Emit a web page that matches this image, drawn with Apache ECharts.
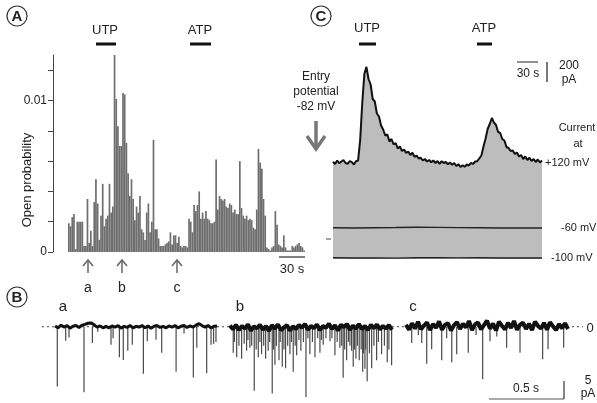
<!DOCTYPE html>
<html>
<head>
<meta charset="utf-8">
<script src="https://cdn.jsdelivr.net/npm/echarts@6/dist/echarts.min.js"></script>
<style>
  html, body { margin: 0; padding: 0; background: #fff; }
  #chart { width: 597px; height: 403px; }
</style>
</head>
<body>
<div id="chart"></div>
<script>
// ---- Panel A: single-channel open probability, one bin per bar ----
const openProbability = [
  0.0019, 0.0017, 0.0023, 0.0025, 0.0002, 0.0020, 0.0020, 0.0020, 0.0020, 0.0004,
  0.0004, 0.0035, 0.0006, 0.0014, 0.0004, 0.0033, 0.0048, 0.0032, 0.0008, 0.0024,
  0.0045, 0.0017, 0.0022, 0.0024, 0.0045, 0.0026, 0.0030, 0.0130, 0.0101, 0.0083,
  0.0070, 0.0070, 0.0105, 0.0104, 0.0072, 0.0052, 0.0037, 0.0048, 0.0035, 0.0021,
  0.0030, 0.0026, 0.0037, 0.0015, 0.0013, 0.0008, 0.0026, 0.0032, 0.0013, 0.0020,
  0.0074, 0.0015, 0.0015, 0.0009, 0.0004, 0.0004, 0.0004, 0.0005, 0.0006, 0.0007,
  0.0013, 0.0005, 0.0011, 0.0011, 0.0006, 0.0010, 0.0004, 0.0003, 0.0004, 0.0004,
  0.0003, 0.0022, 0.0020, 0.0013, 0.0031, 0.0027, 0.0031, 0.0040, 0.0022, 0.0026,
  0.0022, 0.0027, 0.0022, 0.0021, 0.0019, 0.0019, 0.0020, 0.0061, 0.0028, 0.0037,
  0.0035, 0.0034, 0.0035, 0.0030, 0.0029, 0.0032, 0.0031, 0.0026, 0.0028, 0.0025,
  0.0025, 0.0060, 0.0029, 0.0024, 0.0022, 0.0024, 0.0021, 0.0022, 0.0021, 0.0016,
  0.0015, 0.0028, 0.0068, 0.0059, 0.0055, 0.0035, 0.0024, 0.0003, 0.0002, 0.0001,
  0.0003, 0.0004, 0.0027, 0.0018, 0.0005, 0.0004, 0.0003, 0.0011, 0.0003, 0.0001,
  0.0001, 0.0001, 0.0004, 0.0003, 0.0004, 0.0005, 0.0006, 0.0004, 0.0003, 0.0001
];
const openProbTicks = { '0': '0', '0.01': '0.01' };

// ---- Panel C: whole-cell current (pA) ----
const currentStepS = 3;          // sampling of the +120 mV trace
const current120 = [
  772, 750, 785, 758, 775, 790, 760, 752, 780, 768, 745, 778, 785, 990, 1360,
  1650, 1722, 1600, 1545, 1400, 1375, 1255, 1225, 1135, 1095, 1035, 1045, 975, 1000, 945,
  960, 905, 925, 880, 895, 860, 875, 840, 862, 822, 835, 805, 812, 785, 800,
  775, 790, 768, 785, 760, 780, 752, 778, 760, 770, 748, 765, 742, 760, 730,
  748, 720, 738, 722, 745, 735, 762, 750, 775, 778, 805, 835, 925, 1005, 1100,
  1150, 1210, 1165, 1140, 1070, 1060, 1000, 985, 920, 910, 880, 885, 850, 865, 825,
  840, 800, 825, 790, 812, 780, 800, 770, 795, 765, 785
];
const holdStepS = 30;            // sampling of the negative-potential traces
const currentMinus60 = [112, 110, 113, 115, 118, 116, 114, 112, 110, 111, 110];
const currentMinus100 = [-188, -190, -189, -191, -188, -186, -189, -187, -190, -189, -190];

// ---- Panel B: single-channel records (pA), closed-state noise every 20 ms ----
const noiseStepS = 0.02;
const baselineA = [
  0.2, -0.3, 0.4, -0.1, 0.3, -0.4, 0.1, 0.3, -0.2, 0.4,
  0.6, 0.9, 1.0, 0.5, -0.1, 0.2, -0.3, 0.1, -0.3, 0.2,
  -0.1, 0.3, -0.4, 0.1, -0.2, 0.3, -0.3, 0.1, -0.1, 0.3,
  -0.3, 0.2, -0.4, 0.1, 0.3, -0.2, 0.1, -0.3, 0.2, -0.1,
  0.3, -0.3, 0.1, 0.3, -0.2, 0.2, -0.1, 0.4, 0.8, 0.3,
  -0.1, 0.3, -0.3, 0.1, 0.2
];
const baselineB = [
  0.3, -0.7, 0.5, -0.9, 0.2, -0.5, 0.6, -1.0, 0.1, -0.4,
  0.5, -0.8, 0.2, -1.1, 0.4, -0.5, 0.6, -0.9, -0.2, 0.4,
  -1.0, 0.1, -0.6, 0.5, -0.3, 0.7, -0.8, 0.2, -0.4, 0.6,
  -0.9, 0.2, -0.3, 0.8, -0.6, 0.4, -1.0, 0.5, -0.1, 0.7,
  -0.8, 0.3, -0.5, 0.7, -0.6, 0.2, -0.9, 0.5, -0.4, 0.6,
  -0.7, 0.2, -0.5, 0.4, -0.8
];
const baselineC = [
  0.5, -0.8, 0.9, -0.5, 1.3, -0.7, 0.3, 1.1, -0.9, 0.7,
  -0.3, 1.4, -0.8, 0.5, 0.9, -1.0, 0.4, 1.2, -0.6, 0.8,
  -0.2, 1.5, -0.9, 0.6, 1.1, -0.7, 0.4, 1.6, -0.5, 0.8,
  -1.0, 1.3, 0.2, -0.7, 1.0, -0.3, 1.5, -0.8, 0.5, 1.1,
  -0.6, 0.8, -0.9, 1.3, 0.2, -0.5, 1.0, -0.8, 1.2, 0.1,
  -0.9, 0.7, -0.4, 0.9, -0.6
];
// channel openings: [time within record (s), amplitude (pA, inward)]
const openingsA = [
  [0.015, 15.7], [0.071, 3.7], [0.093, 2.8], [0.193, 17.2], [0.249, 4.3], [0.285, 1.3],
  [0.373, 4.7], [0.387, 3.0], [0.429, 8.0], [0.455, 8.7], [0.485, 6.3], [0.515, 4.7],
  [0.589, 12.3], [0.615, 3.8], [0.673, 3.4], [0.711, 6.8], [0.807, 11.8], [0.860, 1.8],
  [0.922, 13.3], [0.945, 5.5], [1.011, 12.2], [1.040, 4.7], [1.057, 4.5], [1.073, 4.0]
];
const openingsB = [
  [0.022, 6.8], [0.030, 4.0], [0.045, 8.0], [0.060, 5.0], [0.078, 8.4], [0.095, 4.5],
  [0.111, 6.3], [0.120, 3.5], [0.133, 5.5], [0.145, 5.0], [0.162, 16.8], [0.175, 6.0],
  [0.189, 8.0], [0.200, 4.0], [0.211, 7.2], [0.225, 5.0], [0.238, 8.4], [0.255, 6.3],
  [0.265, 4.0], [0.282, 17.5], [0.290, 6.0], [0.300, 10.0], [0.310, 5.0], [0.327, 8.8],
  [0.335, 4.0], [0.349, 10.5], [0.360, 6.0], [0.371, 10.9], [0.385, 5.0], [0.400, 7.2],
  [0.410, 4.0], [0.422, 11.8], [0.435, 5.0], [0.445, 7.5], [0.460, 3.5], [0.473, 6.3],
  [0.490, 4.0], [0.507, 18.4], [0.520, 3.0], [0.533, 7.2], [0.550, 4.0], [0.567, 8.0],
  [0.585, 3.0], [0.600, 6.8], [0.610, 3.5], [0.622, 4.7], [0.640, 3.0], [0.667, 3.8],
  [0.680, 3.0], [0.700, 7.5], [0.715, 4.0], [0.733, 5.5], [0.745, 5.0], [0.755, 13.4],
  [0.765, 6.0], [0.778, 8.8], [0.790, 4.0], [0.800, 5.0], [0.811, 6.3], [0.822, 10.5],
  [0.830, 6.0], [0.840, 8.4], [0.850, 5.0], [0.862, 8.8], [0.875, 6.0], [0.885, 11.8],
  [0.890, 7.0], [0.900, 11.0], [0.905, 6.0], [0.915, 14.3], [0.930, 7.0], [0.945, 10.9],
  [0.960, 5.0], [0.978, 8.8], [0.990, 4.0], [1.011, 7.2], [1.030, 5.0], [1.049, 9.3],
  [1.060, 6.0], [1.078, 10.1]
];
const openingsC = [
  [0.038, 4.3], [0.082, 2.2], [0.105, 4.3], [0.138, 9.7], [0.171, 5.9], [0.238, 8.8],
  [0.271, 3.0], [0.305, 9.3], [0.338, 7.2], [0.415, 6.8], [0.467, 2.2], [0.511, 13.8],
  [0.560, 3.8], [0.605, 2.6], [0.671, 5.5], [0.760, 6.8], [0.911, 8.5], [0.947, 5.9],
  [1.051, 5.5]
];
// start of each record along the shared time axis (s)
const recordStart = { a: 0.087, b: 1.253, c: 2.427 };
const recordSpan = 3.607;

const FONT = '"Liberation Sans", Arial, Helvetica, sans-serif';
const INK = '#222';

const chart = echarts.init(document.getElementById('chart'), null, { renderer: 'canvas' });

function traceSeries(noise, start) {
  return noise.map((v, i) => [start + i * noiseStepS, v]);
}
function openingSeries(list, start) {
  return list.map(([t, a]) => [start + t, -a]);
}

// Annotation helpers (graphic layer)
function txt(x, y, s, size, align, weight) {
  return {
    type: 'text', x: x, y: y,
    style: { text: s, font: (weight ? weight + ' ' : '') + (size || 12) + 'px ' + FONT, fill: INK,
      textAlign: align || 'center', textVerticalAlign: 'middle' }
  };
}
function hline(x1, x2, y, w, color) {
  return { type: 'line', shape: { x1: x1, y1: y, x2: x2, y2: y },
    style: { stroke: color || '#111', lineWidth: w || 3 } };
}
function vline(x, y1, y2, w, color) {
  return { type: 'line', shape: { x1: x, y1: y1, x2: x, y2: y2 },
    style: { stroke: color || '#111', lineWidth: w || 1 } };
}
function panelBadge(x, y, letter) {
  return [
    { type: 'circle', shape: { cx: x, cy: y, r: 10 },
      style: { fill: '#fff', stroke: '#333', lineWidth: 1.2 } },
    txt(x, y + 0.5, letter, 15, 'center', 'bold')
  ];
}
function upArrow(x, yTop, yBot) {
  return [
    vline(x, yTop, yBot, 1.5, '#666'),
    { type: 'polyline', shape: { points: [[x - 5, yTop + 6], [x, yTop], [x + 5, yTop + 6]] },
      style: { stroke: '#666', lineWidth: 1.5, fill: null } }
  ];
}

const yTitle = txt(27, 180, 'Open probability', 13);
yTitle.rotation = Math.PI / 2;

const graphics = [].concat(
  panelBadge(17, 16, 'A'),
  panelBadge(321, 16, 'C'),
  panelBadge(17, 297, 'B'),
  [yTitle],
  // drug applications, panel A
  [txt(105, 30, 'UTP', 13), hline(96, 116, 44), txt(200, 30, 'ATP', 13), hline(190, 211, 44)],
  // drug applications, panel C
  [txt(367, 28, 'UTP', 13), hline(359, 376, 44), txt(484, 28, 'ATP', 13), hline(477, 492, 44)],
  // sampled time points under the histogram
  upArrow(88, 260, 273), upArrow(122, 260, 273), upArrow(177, 260, 273),
  [txt(88, 288, 'a', 14), txt(122, 288, 'b', 14), txt(177, 288, 'c', 14)],
  // time scale, panel A
  [hline(279, 305, 257, 1.5, '#555'), txt(292, 269, '30 s', 13)],
  // entry potential note, panel C
  [txt(316, 77, 'Entry', 12), txt(316, 92, 'potential', 12), txt(316, 107, '-82 mV', 12),
   vline(316, 121, 148, 3.5, '#777'),
   { type: 'polyline', shape: { points: [[307, 136], [316, 149], [325, 136]] },
     style: { stroke: '#777', lineWidth: 3.5, fill: null } }],
  // scale bars, panel C
  [hline(517, 538, 62, 1.3, '#555'), txt(528, 74, '30 s', 12),
   vline(547, 62, 82, 1.3, '#333'), txt(569, 66, '200', 12), txt(569, 80, 'pA', 12)],
  // potential labels, panel C
  [txt(577, 128, 'Current', 11), txt(578, 144, 'at', 11),
   txt(545, 163, '+120 mV', 11, 'left'), txt(561, 228, '-60 mV', 11, 'left'),
   txt(551, 258, '-100 mV', 11, 'left'), hline(326, 331, 239, 1, '#444')],
  // record labels and scale bars, panel B
  [txt(63, 307, 'a', 15), txt(240, 307, 'b', 15), txt(413, 307, 'c', 15),
   txt(590, 328, '0', 13),
   hline(489, 564, 399, 1.2, '#555'), vline(564, 381, 399, 1.2, '#333'),
   txt(526, 389, '0.5 s', 12), txt(588, 381, '5', 12), txt(588, 394, 'pA', 12)]
);

const option = {
  backgroundColor: '#fff',
  animation: false,
  textStyle: { fontFamily: FONT },
  grid: [
    { left: 68, top: 55, width: 237, height: 197 },   // A
    { left: 333, top: 40, width: 209, height: 219 },  // C
    { left: 42, top: 300, width: 541, height: 108 }   // B
  ],
  xAxis: [
    { gridIndex: 0, type: 'category', data: openProbability.map((_, i) => i),
      show: false, boundaryGap: true },
    { gridIndex: 1, type: 'value', min: 0, max: 300, show: false },
    { gridIndex: 2, type: 'value', min: 0, max: recordSpan, show: false }
  ],
  yAxis: [
    { gridIndex: 0, type: 'value', min: 0, max: 0.013, interval: 0.002, offset: 15,
      axisLine: { show: true, lineStyle: { color: '#444', width: 1 } },
      axisTick: { show: true, length: 5, lineStyle: { color: '#444' } },
      splitLine: { show: false },
      axisLabel: { fontSize: 12, color: INK, margin: 6, fontFamily: FONT, showMaxLabel: false,
        formatter: v => openProbTicks[String(+v.toFixed(4))] || '' } },
    { gridIndex: 1, type: 'value', min: -200, max: 1990, show: false },
    { gridIndex: 2, type: 'value', min: -20, max: 7, show: false }
  ],
  series: [
    { type: 'bar', xAxisIndex: 0, yAxisIndex: 0, data: openProbability,
      barCategoryGap: '0%', itemStyle: { color: '#6e6e6e' }, silent: true },

    { type: 'line', xAxisIndex: 1, yAxisIndex: 1, showSymbol: false, silent: true,
      data: current120.map((v, i) => [i * currentStepS, v]),
      lineStyle: { color: '#111', width: 2 },
      areaStyle: { color: '#bdbdbd', opacity: 1, origin: 'start' }, z: 2 },
    { type: 'line', xAxisIndex: 1, yAxisIndex: 1, showSymbol: false, silent: true,
      data: currentMinus60.map((v, i) => [i * holdStepS, v]),
      lineStyle: { color: '#222', width: 1.4 }, z: 3 },
    { type: 'line', xAxisIndex: 1, yAxisIndex: 1, showSymbol: false, silent: true, clip: false,
      data: currentMinus100.map((v, i) => [i * holdStepS, v]),
      lineStyle: { color: '#222', width: 1.4 }, z: 3 },

    // zero-current reference, panel B
    { type: 'line', xAxisIndex: 2, yAxisIndex: 2, showSymbol: false, silent: true,
      data: [[0, 0], [recordSpan, 0]],
      lineStyle: { color: '#444', width: 1, type: [2, 3] }, z: 1 },
    // openings
    ...[['a', openingsA], ['b', openingsB], ['c', openingsC]].map(([k, list]) => ({
      type: 'bar', xAxisIndex: 2, yAxisIndex: 2, barWidth: 1.2, silent: true, clip: false,
      data: openingSeries(list, recordStart[k]), itemStyle: { color: '#4a4a4a' }, z: 2,
      barGap: '-100%'
    })),
    // closed-state baselines
    ...[['a', baselineA, 3], ['b', baselineB, 4], ['c', baselineC, 4]].map(([k, noise, w]) => ({
      type: 'line', xAxisIndex: 2, yAxisIndex: 2, showSymbol: false, silent: true,
      data: traceSeries(noise, recordStart[k]),
      lineStyle: { color: '#111', width: w }, z: 3
    }))
  ],
  graphic: { elements: graphics }
};

chart.setOption(option);
</script>
</body>
</html>
